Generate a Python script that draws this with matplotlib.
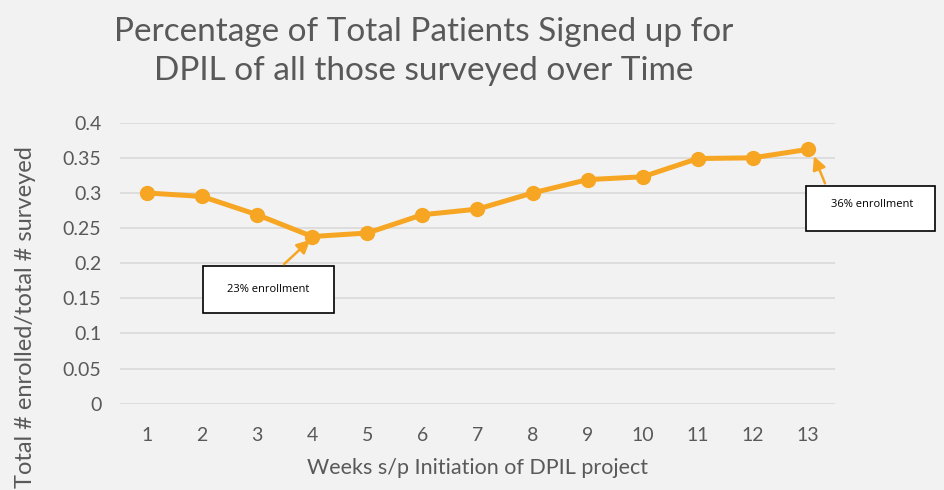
import numpy as np
import matplotlib.pyplot as plt
from matplotlib.patches import Rectangle

# datos
weeks = [1, 2, 3, 4, 5, 6, 7, 8, 9, 10, 11, 12, 13]
ratio = [0.300, 0.295, 0.269, 0.238, 0.243, 0.269, 0.277, 0.300, 0.319, 0.323, 0.349, 0.350, 0.362]
yticks = [0, 0.05, 0.1, 0.15, 0.2, 0.25, 0.3, 0.35, 0.4]
ytick_labels = ['0', '0.05', '0.1', '0.15', '0.2', '0.25', '0.3', '0.35', '0.4']

bg = '#f2f2f2'
naranja = '#f6a623'
gris = '#595959'
plt.rcParams['font.family'] = ['Lato', 'DejaVu Sans']

fig = plt.figure(figsize=(9.44, 4.9), dpi=100, facecolor=bg)
ax = fig.add_axes([0.1266, 0.176, 0.7584, 0.5736], facecolor=bg)

ax.plot(weeks, ratio, '-o', color=naranja, lw=3.6, ms=10, zorder=3)

ax.set_xlim(0.5, 13.5)
ax.set_ylim(0, 0.4)
ax.set_xticks(weeks)
ax.set_xticklabels([str(w) for w in weeks])
ax.set_yticks(yticks)
ax.set_yticklabels(ytick_labels)
ax.tick_params(length=0, labelsize=14, colors=gris, pad=13)
ax.tick_params(axis='x', pad=17)
ax.grid(axis='y', color='#d9d9d9', lw=1.2)
for s in ax.spines.values():
    s.set_visible(False)

ax.set_xlabel('Weeks s/p Initiation of DPIL project', fontsize=15.5, color=gris, labelpad=10)
ax.set_ylabel('Total # enrolled/total # surveyed', fontsize=17, color=gris)
ax.yaxis.set_label_coords(-0.117, 0.31)

fig.text(0.449, 0.935, 'Percentage of Total Patients Signed up for', ha='center', va='center',
         fontsize=24, color=gris)
fig.text(0.449, 0.855, 'DPIL of all those surveyed over Time', ha='center', va='center',
         fontsize=24, color=gris)

# anotaciones
ax.add_patch(Rectangle((2.017, 0.129), 2.378, 0.067, facecolor='white', edgecolor='black',
                       lw=1.2, zorder=4, clip_on=False))
ax.text(3.197, 0.163, '23% enrollment', ha='center', va='center', fontsize=8, zorder=5,
        family=['Open Sans', 'DejaVu Sans'])
ax.annotate('', xy=(4, 0.236), xytext=(3.451, 0.196),
            arrowprops=dict(arrowstyle='-|>', color=naranja, lw=1.8, mutation_scale=20), zorder=4)

ax.add_patch(Rectangle((12.96, 0.246), 2.35, 0.064, facecolor='white', edgecolor='black',
                       lw=1.2, zorder=4, clip_on=False))
ax.text(14.16, 0.283, '36% enrollment', ha='center', va='center', fontsize=8, zorder=5,
        family=['Open Sans', 'DejaVu Sans'], clip_on=False)
ax.annotate('', xy=(13.09, 0.356), xytext=(13.33, 0.310),
            arrowprops=dict(arrowstyle='-|>', color=naranja, lw=1.8, mutation_scale=20),
            zorder=4, annotation_clip=False)

plt.savefig('out.png', dpi=100, facecolor=bg)
